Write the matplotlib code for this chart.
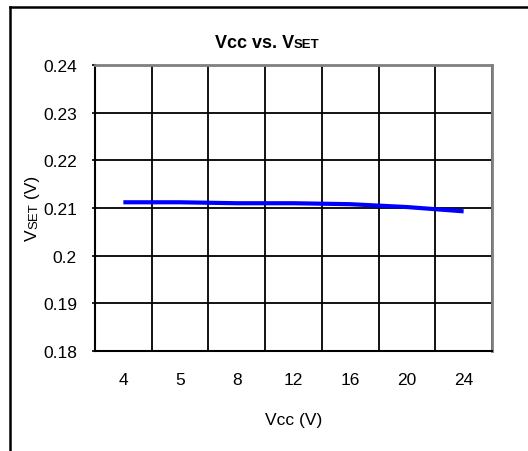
import matplotlib
matplotlib.use("Agg")
import matplotlib.pyplot as plt
from matplotlib.lines import Line2D
import numpy as np

# data
vcc_labels = ["4", "5", "8", "12", "16", "20", "24"]
vset = [0.2112, 0.2112, 0.2110, 0.2110, 0.2108, 0.2102, 0.2093]
y_ticks = [0.18, 0.19, 0.20, 0.21, 0.22, 0.23, 0.24]
y_tick_labels = ["0.18", "0.19", "0.2", "0.21", "0.22", "0.23", "0.24"]

plt.rcParams['font.family'] = ["Liberation Sans", "DejaVu Sans"]

W, H = 528, 452
fig = plt.figure(figsize=(W / 100, H / 100), dpi=100)
ax = fig.add_axes([95 / W, 1 - 352 / H, 397 / W, 286 / H])

x = np.arange(len(vcc_labels))
ax.plot(x, vset, color="#0000ff", lw=3.0, solid_capstyle="butt", zorder=3)

ax.set_xlim(-0.5, len(vcc_labels) - 0.5)
ax.set_ylim(0.18, 0.24)
ax.set_xticks(x)
ax.set_xticklabels(vcc_labels, fontsize=12.5)
ax.set_xticks(np.arange(len(vcc_labels) + 1) - 0.5, minor=True)
ax.set_yticks(y_ticks)
ax.set_yticklabels(y_tick_labels, fontsize=12.5)
ax.tick_params(axis="x", which="major", length=0, pad=15)
ax.tick_params(axis="x", which="minor", length=0)
ax.tick_params(axis="y", length=2, width=1.2, pad=11)

ax.grid(True, axis="x", which="minor", color="black", lw=1.3)
ax.grid(True, axis="y", which="major", color="black", lw=1.3)
ax.set_axisbelow(True)

for s in ["left", "bottom"]:
    ax.spines[s].set_color("black")
    ax.spines[s].set_linewidth(1.5)
for s in ["top", "right"]:
    ax.spines[s].set_color("#808080")
    ax.spines[s].set_linewidth(2)

ax.set_xlabel("Vcc (V)", fontsize=12.5, labelpad=18)

# outer frame: left and top edges only
fig.add_artist(Line2D([10 / W, 10 / W], [0, 1 - 8 / H], color="black", lw=1.8))
fig.add_artist(Line2D([10 / W, 1], [1 - 8 / H, 1 - 8 / H], color="black", lw=1.8))

fig.canvas.draw()
r = fig.canvas.get_renderer()


def chain(pieces, x0, y0, rotate=False):
    # place text pieces one after another along the baseline (pixel coords)
    px, py = x0, y0
    for txt, size, weight in pieces:
        t = fig.text(px / W, 1 - py / H, txt, fontsize=size, fontweight=weight,
                     ha="left", va="baseline", rotation=90 if rotate else 0,
                     rotation_mode="anchor")
        bb = t.get_window_extent(r)
        if rotate:
            py -= bb.height
        else:
            px += bb.width


chain([("Vcc vs. V", 13, "bold"), ("SET", 9.5, "bold")], 215, 48)
chain([("V", 12.5, "normal"), ("SET", 9.5, "normal"), (" (V)", 12.5, "normal")],
      37, 241, rotate=True)

fig.savefig("out.png", dpi=100)
